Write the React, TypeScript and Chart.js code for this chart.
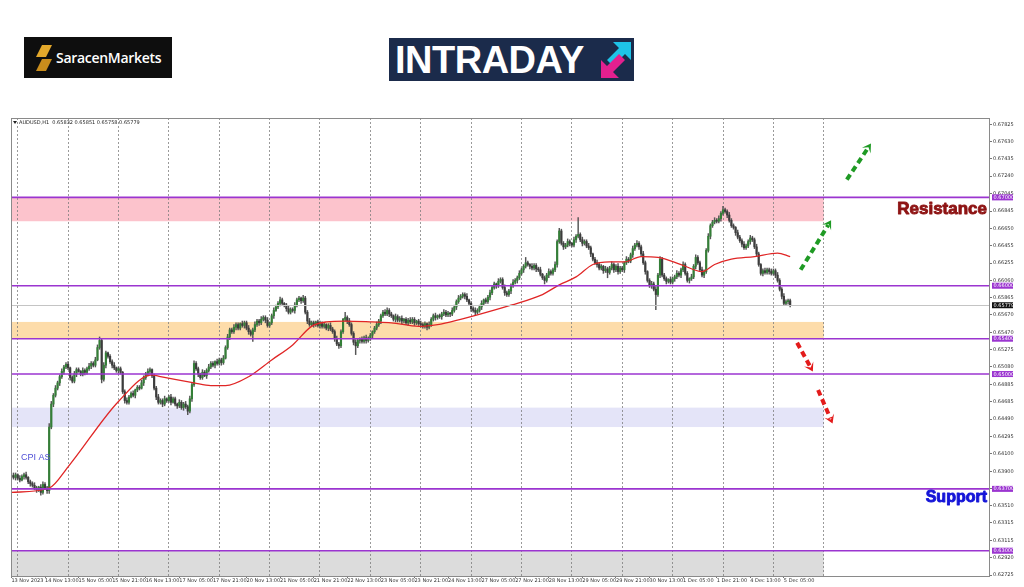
import React, { useEffect, useRef } from "react";
import { Chart, registerables } from "chart.js";

Chart.register(...registerables);

// ---------- DATA ----------
const PIP = 10000;
const firstOpen = 6384;
// hourly closes, in pips (6500 = 0.6500), 13 Nov 21:00 .. 5 Dec 08:00
const closes = [
  6385,6383,6386,6382,6380,6384,6386,6383,6378,6376,6374,6371,
  6369,6372,6366,6375,6371,6368,6440,6466,6476,6484,6490,6497,
  6503,6508,6511,6507,6496,6492,6500,6505,6503,6500,6504,6502,
  6506,6509,6512,6510,6516,6530,6538,6494,6510,6524,6520,6514,
  6510,6507,6504,6506,6502,6480,6470,6468,6474,6478,6476,6482,
  6485,6484,6490,6496,6500,6503,6505,6498,6484,6474,6468,6470,
  6466,6472,6470,6474,6468,6472,6466,6464,6468,6462,6466,6463,
  6458,6472,6488,6512,6506,6500,6496,6502,6498,6504,6508,6512,
  6510,6514,6512,6516,6513,6518,6530,6542,6550,6548,6553,6556,
  6552,6557,6555,6558,6552,6548,6545,6550,6556,6560,6558,6562,
  6564,6561,6555,6558,6566,6572,6576,6580,6584,6580,6578,6574,
  6570,6573,6572,6578,6584,6586,6583,6586,6570,6560,6556,6558,
  6556,6559,6555,6557,6554,6556,6552,6555,6551,6548,6540,6534,
  6532,6548,6562,6564,6560,6556,6546,6536,6532,6538,6540,6537,
  6541,6538,6540,6544,6548,6552,6556,6560,6566,6570,6568,6572,
  6568,6566,6562,6565,6561,6563,6560,6562,6558,6561,6559,6562,
  6558,6560,6557,6556,6554,6557,6553,6556,6562,6566,6564,6566,
  6565,6568,6570,6567,6569,6568,6572,6576,6582,6586,6588,6590,
  6588,6584,6580,6574,6572,6570,6572,6576,6580,6584,6582,6587,
  6592,6598,6602,6600,6605,6607,6598,6592,6590,6594,6600,6604,
  6606,6609,6614,6618,6622,6626,6624,6622,6620,6623,6619,6618,
  6613,6609,6606,6612,6616,6614,6618,6624,6650,6662,6648,6644,
  6646,6650,6648,6646,6652,6656,6658,6652,6648,6650,6645,6643,
  6636,6630,6626,6624,6620,6622,6617,6619,6615,6620,6624,6618,
  6622,6616,6620,6618,6626,6630,6628,6635,6642,6646,6648,6644,
  6636,6626,6616,6606,6600,6602,6596,6590,6612,6630,6612,6608,
  6605,6607,6604,6608,6610,6614,6612,6618,6624,6614,6606,6608,
  6610,6622,6632,6626,6618,6612,6616,6640,6656,6668,6672,6674,
  6673,6676,6682,6686,6684,6680,6674,6668,6666,6660,6655,6651,
  6647,6643,6645,6650,6654,6652,6644,6636,6624,6614,6617,6615,
  6618,6616,6614,6617,6612,6606,6596,6588,6580,6582,6583,6578,
];
// upper wick above body top, in pips
const wickUp = [
  2,3,2,1,3,2,2,3,1,2,2,3,2,1,3,3,2,2,4,3,2,3,2,2,
  3,2,2,3,1,2,3,2,2,1,3,2,2,3,2,2,3,3,4,2,3,2,1,2,
  2,3,1,2,2,1,2,3,2,2,3,1,2,2,3,2,2,3,2,1,2,2,3,2,
  2,3,1,2,3,2,2,1,3,2,2,3,2,3,2,3,2,2,1,3,2,2,3,2,
  2,1,3,2,2,3,2,3,2,2,3,2,2,1,3,2,2,3,2,2,3,2,2,3,
  2,2,3,1,2,3,2,2,3,2,1,2,3,2,2,3,2,2,1,3,2,2,3,2,
  2,1,2,3,2,2,1,2,3,2,2,3,2,2,1,6,2,3,2,2,3,2,1,2,
  2,3,2,2,1,2,3,2,2,2,3,3,2,2,1,3,2,2,3,1,2,2,3,2,
  2,1,2,3,2,2,1,3,2,2,3,1,2,2,3,2,2,1,3,2,2,3,2,2,
  2,3,1,2,2,3,2,2,3,1,2,2,3,2,2,1,3,2,2,3,2,2,2,3,
  2,2,3,2,2,6,2,1,3,2,2,2,3,1,2,2,3,2,2,3,2,3,2,2,
  2,3,2,1,3,2,19,2,3,2,2,3,2,1,2,3,2,2,1,3,2,2,3,2,
  2,3,2,2,1,3,2,2,3,2,3,2,2,3,2,1,2,3,2,3,2,3,2,2,
  2,1,3,2,2,3,2,2,3,2,2,1,3,2,3,2,2,3,2,2,3,2,2,3,
  2,3,2,4,2,2,3,2,2,1,3,2,2,3,2,2,3,2,2,3,2,1,2,3,
  2,2,3,2,2,3,2,2,3,2,2,2,
];
// lower wick below body bottom, in pips
const wickDown = [
  2,2,3,2,2,1,3,2,2,3,2,2,3,2,3,2,2,3,3,2,3,2,2,3,
  2,3,2,2,3,2,2,3,1,2,2,3,2,2,3,2,2,1,2,4,2,3,2,2,
  3,2,2,3,2,2,3,2,2,1,2,3,2,2,1,3,2,2,3,2,2,3,2,2,
  3,2,2,2,3,1,2,3,2,2,3,2,4,2,3,2,2,3,2,2,1,3,2,2,
  2,3,2,2,3,2,1,2,3,2,2,3,2,2,2,3,2,3,2,8,2,2,3,2,
  2,3,2,2,2,3,1,2,3,2,2,3,2,2,2,3,2,2,3,2,2,3,2,2,
  3,2,2,3,2,2,2,3,2,2,3,2,3,2,2,2,3,2,2,3,10,2,3,2,
  2,3,2,2,3,2,2,2,3,2,2,2,3,2,2,3,2,2,3,2,2,3,2,2,
  3,2,2,3,2,2,3,2,2,2,3,2,2,3,2,2,2,3,2,2,3,2,2,2,
  3,2,2,3,2,3,2,2,3,2,2,2,3,2,2,3,2,2,2,3,2,2,3,2,
  2,3,2,2,3,2,2,3,2,2,3,2,2,2,4,2,3,2,2,2,3,2,2,3,
  2,2,3,2,2,3,2,2,3,2,2,2,3,2,2,3,2,2,3,2,6,2,2,3,
  2,3,2,2,3,2,2,2,3,2,2,3,2,2,3,2,2,3,2,17,2,3,2,2,
  3,2,2,2,3,2,2,3,2,2,2,3,2,2,3,2,2,2,3,2,2,3,2,2,
  2,2,3,2,2,3,2,2,2,3,2,2,3,2,2,2,3,2,2,3,2,2,3,2,
  2,3,2,2,3,2,2,3,2,2,3,2,
];

// moving average (red), read at selected bars
const maIndex = [0, 18, 27, 51, 67, 71, 87, 95, 102, 113, 124, 134, 143, 150, 159, 172, 181, 194, 203, 214, 222, 238, 253, 261, 269, 277, 285, 292, 300, 308, 319, 329, 335, 343, 354, 365, 371];
const maValue = [6366, 6371, 6395, 6469, 6499, 6497, 6490, 6487, 6487, 6497, 6516, 6533, 6554, 6559, 6560, 6559, 6558, 6554, 6556, 6562, 6567, 6578, 6590, 6601, 6610, 6624, 6627, 6627, 6633, 6632, 6624, 6616, 6624, 6630, 6633, 6637, 6633];

const xLabelIndex = [0, 16, 32, 48, 64, 80, 96, 112, 128, 144, 160, 176, 192, 208, 224, 240, 256, 272, 288, 304, 320, 336, 352, 368];
const xLabelText = [
  "13 Nov 2023", "14 Nov 13:00", "15 Nov 05:00", "15 Nov 21:00", "16 Nov 13:00", "17 Nov 05:00",
  "17 Nov 21:00", "20 Nov 13:00", "21 Nov 05:00", "21 Nov 21:00", "22 Nov 13:00", "23 Nov 05:00",
  "23 Nov 21:00", "24 Nov 13:00", "27 Nov 05:00", "27 Nov 21:00", "28 Nov 13:00", "29 Nov 05:00",
  "29 Nov 21:00", "30 Nov 13:00", "1 Dec 05:00", "1 Dec 21:00", "4 Dec 13:00", "5 Dec 05:00",
];
const dayStartIndex = [3, 27, 51, 75, 99, 123, 147, 171, 195, 219, 243, 267, 291, 315, 339, 363, 387];

const yTickValues = [
  0.67825, 0.6763, 0.67435, 0.6724, 0.67045, 0.66845, 0.6665, 0.66455, 0.66255, 0.6606,
  0.65865, 0.6567, 0.6547, 0.65275, 0.6508, 0.64885, 0.64685, 0.6449, 0.64295, 0.641,
  0.639, 0.63705, 0.6351, 0.63315, 0.63115, 0.6292, 0.62725,
];

const levelPrices = [0.67, 0.66, 0.654, 0.65, 0.637, 0.63];
const lastPrice = 0.65779;

const zoneLow = [0.6673, 0.654, 0.644, 0.6265];
const zoneHigh = [0.67, 0.6559, 0.6462, 0.63];
const zoneColor = ["#fcc3cc", "#fddcaa", "#e4e4f8", "#dcdcdc"];
const zoneEndIndex = 387;

const arrowFromIdx = [398, 376, 374.3, 384.3];
const arrowFromPrice = [0.672, 0.6618, 0.65355, 0.6482];
const arrowToIdx = [409.5, 390.5, 381.8, 391.2];
const arrowToPrice = [0.6761, 0.6674, 0.6503, 0.6444];
const arrowColor = ["#1f9a24", "#1f9a24", "#e31b1b", "#e31b1b"];

const headerText = "AUDUSD,H1  0.65832 0.65851 0.65758 0.65779";

// ---------- SCALE RANGE ----------
const xMin = -0.2;
const xMax = 466.2;
const yMin = 0.627137;
const yMax = 0.678987;

function drawArrow(ctx: CanvasRenderingContext2D, x1: number, y1: number, x2: number, y2: number, color: string) {
  const ang = Math.atan2(y2 - y1, x2 - x1);
  const head = 10;
  const bx = x2 - Math.cos(ang) * head * 0.55;
  const by = y2 - Math.sin(ang) * head * 0.55;
  ctx.save();
  ctx.strokeStyle = color;
  ctx.lineWidth = 4;
  ctx.setLineDash([6, 4]);
  ctx.beginPath();
  ctx.moveTo(x1, y1);
  ctx.lineTo(bx, by);
  ctx.stroke();
  ctx.setLineDash([]);
  ctx.fillStyle = color;
  ctx.beginPath();
  ctx.moveTo(x2, y2);
  ctx.lineTo(x2 - head * Math.cos(ang - 0.55), y2 - head * Math.sin(ang - 0.55));
  ctx.lineTo(x2 - head * 0.45 * Math.cos(ang), y2 - head * 0.45 * Math.sin(ang));
  ctx.lineTo(x2 - head * Math.cos(ang + 0.55), y2 - head * Math.sin(ang + 0.55));
  ctx.closePath();
  ctx.fill();
  ctx.restore();
}

const overlayPlugin = {
  id: "overlay",
  beforeDraw(chart: any) {
    const { ctx, chartArea: a, scales } = chart;
    const xs = scales.x, ys = scales.y;
    ctx.save();
    ctx.beginPath();
    ctx.rect(a.left, a.top, a.right - a.left, a.bottom - a.top);
    ctx.clip();
    const xe = xs.getPixelForValue(zoneEndIndex);
    zoneLow.forEach((lo, i) => {
      const yTop = ys.getPixelForValue(zoneHigh[i]);
      const yBot = ys.getPixelForValue(lo);
      ctx.fillStyle = zoneColor[i];
      ctx.fillRect(a.left, yTop, xe - a.left, yBot - yTop);
    });
    ctx.restore();
  },
  afterDatasetsDraw(chart: any) {
    const { ctx, chartArea: a, scales } = chart;
    const xs = scales.x, ys = scales.y;
    ctx.save();
    ctx.beginPath();
    ctx.rect(a.left, a.top, a.right - a.left, a.bottom - a.top);
    ctx.clip();
    // last price line
    const yp = Math.round(ys.getPixelForValue(lastPrice)) + 0.5;
    ctx.strokeStyle = "#c4c4c4";
    ctx.lineWidth = 1;
    ctx.beginPath();
    ctx.moveTo(a.left, yp);
    ctx.lineTo(a.right, yp);
    ctx.stroke();
    // levels
    ctx.strokeStyle = "#9b35d0";
    ctx.lineWidth = 1.6;
    levelPrices.forEach((p) => {
      const y = ys.getPixelForValue(p);
      ctx.beginPath();
      ctx.moveTo(a.left, y);
      ctx.lineTo(a.right, y);
      ctx.stroke();
    });
    // arrows
    arrowFromIdx.forEach((fx, i) => {
      drawArrow(
        ctx,
        xs.getPixelForValue(fx), ys.getPixelForValue(arrowFromPrice[i]),
        xs.getPixelForValue(arrowToIdx[i]), ys.getPixelForValue(arrowToPrice[i]),
        arrowColor[i]
      );
    });
    // texts
    ctx.textBaseline = "middle";
    ctx.textAlign = "right";
    ctx.lineJoin = "round";
    ctx.fillStyle = "#8e1414";
    ctx.strokeStyle = "#8e1414";
    ctx.lineWidth = 0.9;
    ctx.font = "bold 17px 'Liberation Sans', Arial, sans-serif";
    const yr = ys.getPixelForValue(0.6686);
    ctx.fillText("Resistance", a.right - 3, yr);
    ctx.strokeText("Resistance", a.right - 3, yr);
    ctx.fillStyle = "#1515d8";
    ctx.strokeStyle = "#1515d8";
    ctx.font = "bold 16px 'Liberation Sans', Arial, sans-serif";
    const ysup = ys.getPixelForValue(0.636);
    ctx.fillText("Support", a.right - 3, ysup);
    ctx.strokeText("Support", a.right - 3, ysup);
    ctx.textAlign = "left";
    ctx.fillStyle = "#4f4fd6";
    ctx.font = "9px 'Liberation Sans', Arial, sans-serif";
    ctx.fillText("CPI AS", xs.getPixelForValue(4.6), ys.getPixelForValue(0.6406));
    // header
    ctx.fillStyle = "#222";
    ctx.beginPath();
    ctx.moveTo(a.left + 2, a.top + 3);
    ctx.lineTo(a.left + 6, a.top + 3);
    ctx.lineTo(a.left + 4, a.top + 6);
    ctx.closePath();
    ctx.fill();
    ctx.font = "5px 'DejaVu Sans', sans-serif";
    ctx.fillText(headerText, a.left + 8, a.top + 4.5);
    ctx.restore();
  },
  afterDraw(chart: any) {
    const { ctx, chartArea: a, scales } = chart;
    const ys = scales.y;
    ctx.save();
    ctx.strokeStyle = "#8a8a8a";
    ctx.lineWidth = 1;
    ctx.strokeRect(a.left + 0.5, a.top + 0.5, a.right - a.left - 1, a.bottom - a.top);
    ctx.font = "5px 'DejaVu Sans', sans-serif";
    ctx.textBaseline = "middle";
    ctx.textAlign = "left";
    const box = (p: number, color: string) => {
      const y = ys.getPixelForValue(p);
      ctx.fillStyle = color;
      ctx.fillRect(a.right + 2, y - 3, 21, 6);
      ctx.fillStyle = "#fff";
      ctx.fillText(p.toFixed(5), a.right + 3.5, y + 0.3);
    };
    levelPrices.forEach((p) => box(p, "#9b35d0"));
    box(lastPrice, "#111");
    ctx.restore();
  },
};

export default function App() {
  const ref = useRef<HTMLCanvasElement>(null);

  useEffect(() => {
    const canvas = ref.current;
    if (!canvas) return;
    const opens = closes.map((c, i) => (i === 0 ? firstOpen : closes[i - 1]));
    const highs = closes.map((c, i) => Math.max(opens[i], c) + wickUp[i]);
    const lows = closes.map((c, i) => Math.min(opens[i], c) - wickDown[i]);
    const bodies = closes.map((c, i) => ({ x: i, y: [opens[i] / PIP, c / PIP] }));
    const wicks = closes.map((c, i) => ({ x: i, y: [lows[i] / PIP, highs[i] / PIP] }));
    const bodyColors = closes.map((c, i) => (c >= opens[i] ? "#347f37" : "#3c3c3c"));
    const ma = maIndex.map((x, i) => ({ x, y: maValue[i] / PIP }));

    const chart = new Chart(canvas, {
      type: "bar",
      data: {
        datasets: [
          {
            type: "line",
            data: ma as any,
            borderColor: "#e02626",
            borderWidth: 1.3,
            pointRadius: 0,
            cubicInterpolationMode: "monotone",
            order: 0,
          } as any,
          {
            type: "bar",
            data: bodies as any,
            backgroundColor: bodyColors,
            barThickness: 1.5,
            minBarLength: 1,
            grouped: false,
            order: 1,
          } as any,
          {
            type: "bar",
            data: wicks as any,
            backgroundColor: "#555555",
            barThickness: 0.8,
            grouped: false,
            order: 2,
          } as any,
        ],
      },
      options: {
        responsive: false,
        animation: false,
        events: [],
        layout: { padding: { left: 11, top: 118, right: 0, bottom: 0 } },
        plugins: { legend: { display: false }, tooltip: { enabled: false } },
        scales: {
          x: {
            type: "linear",
            min: xMin,
            max: xMax,
            offset: false,
            afterBuildTicks: (s: any) => {
              s.ticks = xLabelIndex.map((v) => ({ value: v }));
            },
            afterFit: (s: any) => {
              s.height = 11;
            },
            ticks: {
              autoSkip: false,
              maxRotation: 0,
              minRotation: 0,
              align: "start",
              padding: 0,
              color: "#333",
              font: { size: 5, family: "'DejaVu Sans', sans-serif" },
              callback: (v: any) => {
                const k = xLabelIndex.indexOf(Number(v));
                return k >= 0 ? xLabelText[k] : "";
              },
            },
            grid: { drawOnChartArea: false, tickLength: 2, color: "#777", offset: false },
            border: { display: false },
          },
          x2: {
            type: "linear",
            position: "top",
            min: xMin,
            max: xMax,
            offset: false,
            afterBuildTicks: (s: any) => {
              s.ticks = dayStartIndex.map((v) => ({ value: v }));
            },
            afterFit: (s: any) => {
              s.height = 0;
            },
            ticks: { display: false },
            grid: { drawTicks: false, color: "rgba(120,120,120,0.75)", lineWidth: 1, offset: false },
            border: { display: false, dash: [2, 2] },
          },
          y: {
            type: "linear",
            position: "right",
            min: yMin,
            max: yMax,
            afterBuildTicks: (s: any) => {
              s.ticks = yTickValues.map((v) => ({ value: v }));
            },
            afterFit: (s: any) => {
              s.width = 34;
            },
            ticks: {
              autoSkip: false,
              padding: 1,
              color: "#333",
              font: { size: 5, family: "'DejaVu Sans', sans-serif" },
              callback: (v: any) => Number(v).toFixed(5),
            },
            grid: { drawOnChartArea: false, tickLength: 2, color: "#777" },
            border: { display: false },
          },
        } as any,
      },
      plugins: [overlayPlugin as any],
    });
    return () => chart.destroy();
  }, []);

  return (
    <div style={{ position: "fixed", left: 0, top: 0, width: 1024, height: 587, background: "#fff", overflow: "hidden" }}>
      <canvas ref={ref} width={1024} height={587} style={{ position: "absolute", left: 0, top: 0 }} />
      {/* Saracen Markets logo */}
      <div style={{ position: "absolute", left: 24, top: 37, width: 148, height: 41, background: "#0e0e0e" }}>
        <svg width="18" height="26" style={{ position: "absolute", left: 11, top: 8 }}>
          <polygon points="7,0 17,0 11,12 1,12" fill="#e3a82b" />
          <polygon points="7,14 17,14 11,26 1,26" fill="#c98d1c" />
        </svg>
        <div
          style={{
            position: "absolute",
            left: 32,
            top: 0,
            height: 41,
            lineHeight: "41px",
            color: "#fff",
            fontFamily: "'Open Sans', 'Liberation Sans', sans-serif",
            fontSize: 14,
            fontWeight: 600,
            letterSpacing: -0.3,
          }}
        >
          SaracenMarkets
        </div>
      </div>
      {/* INTRADAY logo */}
      <div style={{ position: "absolute", left: 389, top: 38, width: 245, height: 43, background: "#1b2b4b" }}>
        <div
          style={{
            position: "absolute",
            left: 6,
            top: 0,
            height: 43,
            lineHeight: "44px",
            color: "#fff",
            fontFamily: "'Liberation Sans', Arial, sans-serif",
            fontSize: 38,
            fontWeight: 700,
            letterSpacing: -0.5,
          }}
        >
          INTRADAY
        </div>
        <svg width="34" height="40" style={{ position: "absolute", left: 210, top: 2 }}>
          <polygon points="14,2 32,2 32,20 26,14 14,26 8,20 20,8" fill="#1ec3e8" />
          <polygon points="2,38 2,20 8,26 20,14 26,20 14,32 20,38" fill="#e3208f" />
        </svg>
      </div>
    </div>
  );
}
